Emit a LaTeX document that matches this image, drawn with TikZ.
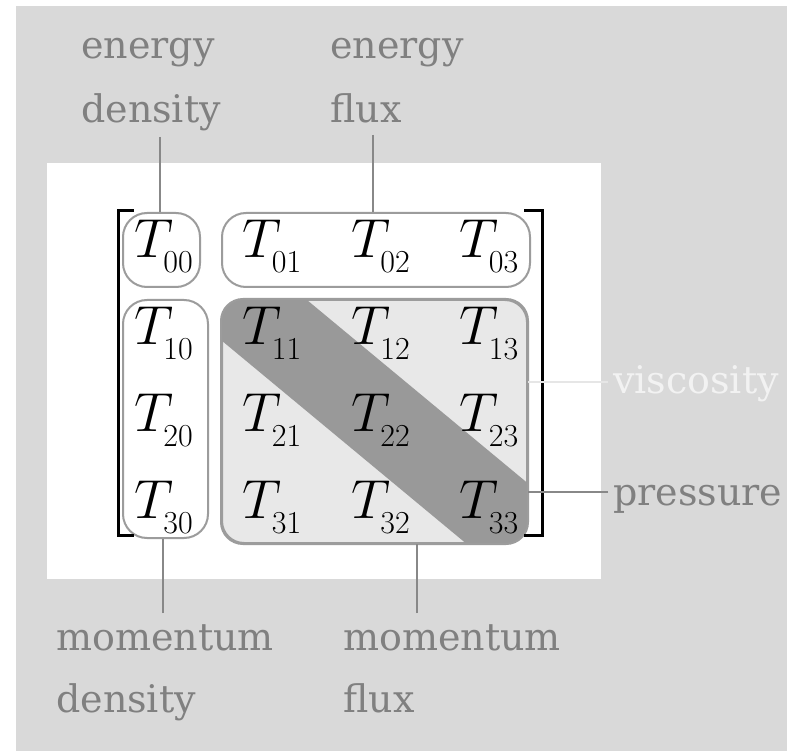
\documentclass[tikz,border=0pt]{standalone}
\usepackage{fix-cm}
\usepackage{fontspec}
\newfontfamily\labfont{DejaVu Serif}
\definecolor{bggray}{HTML}{D9D9D9}
\definecolor{labgray}{HTML}{808080}
\definecolor{boxfill}{HTML}{E8E8E8}
\definecolor{bandgray}{HTML}{999999}
\definecolor{capgray}{HTML}{9C9C9C}
\definecolor{conngray}{HTML}{888888}
\definecolor{viscgray}{HTML}{F2F2F2}
\definecolor{visclinegray}{HTML}{E6E6E6}
\newcommand{\Tent}[1]{{\fontsize{55}{60}\selectfont$T$}\kern-10pt\raisebox{-15pt}{\fontsize{32}{34}\selectfont #1}}
\tikzset{
  entry/.style={inner sep=0pt, text=black},
  capsule/.style={draw=capgray, line width=2pt, rounded corners=24pt, inner sep=0pt},
  lab/.style={anchor=base west, inner sep=0pt, text=labgray, font=\labfont\fontsize{38}{40}\selectfont},
  conn/.style={draw=conngray, line width=2.2pt},
  bracket/.style={draw=black, line width=3pt, line cap=rect},
}
\begin{document}
\begin{tikzpicture}[x=1pt,y=-1pt]
\useasboundingbox (0,0) rectangle (795,751);
% backgrounds
\fill[bggray] (16,6) rectangle (787,751);
\fill[white] (47,163) rectangle (601,579);
% capsules
\node[capsule, minimum width=77pt, minimum height=74pt] (c00) at (161.5,250) {};
\node[capsule, minimum width=308pt, minimum height=74pt] (c0x) at (376,250) {};
\node[capsule, minimum width=85pt, minimum height=238pt] (cx0) at (165.5,419) {};
\node[capsule, fill=boxfill, rounded corners=22pt, minimum width=305pt, minimum height=243pt] (big) at (374.5,421.5) {};
% diagonal band
\begin{scope}
  \clip[rounded corners=22pt] (222,300) rectangle (527,543);
  \fill[bandgray] (150,169.7) -- (600,543.2) -- (600,654.6) -- (150,281.1) -- cycle;
\end{scope}
\draw[capsule, fill=none, rounded corners=22pt] (big.north west) rectangle (big.south east);
% brackets
\draw[bracket] (132,210.5) -- (118.5,210.5) -- (118.5,535) -- (132,535);
\draw[bracket] (525,210.5) -- (542.5,210.5) -- (542.5,535) -- (525,535);
% entries
\node[entry] (t00) at (163.5,246.5) {\Tent{00}};
\node[entry] (t01) at (272,246.5) {\Tent{01}};
\node[entry] (t02) at (380.5,246.5) {\Tent{02}};
\node[entry] (t03) at (489,246.5) {\Tent{03}};
\node[entry] (t10) at (163.5,333.5) {\Tent{10}};
\node[entry] (t11) at (272,333.5) {\Tent{11}};
\node[entry] (t12) at (380.5,333.5) {\Tent{12}};
\node[entry] (t13) at (489,333.5) {\Tent{13}};
\node[entry] (t20) at (163.5,420.5) {\Tent{20}};
\node[entry] (t21) at (272,420.5) {\Tent{21}};
\node[entry] (t22) at (380.5,420.5) {\Tent{22}};
\node[entry] (t23) at (489,420.5) {\Tent{23}};
\node[entry] (t30) at (163.5,507) {\Tent{30}};
\node[entry] (t31) at (272,507) {\Tent{31}};
\node[entry] (t32) at (380.5,507) {\Tent{32}};
\node[entry] (t33) at (489,507) {\Tent{33}};
% labels
\node[lab] (ed1) at (81,59) {energy};
\node[lab] (ed2) at (81,123) {density};
\node[lab] (ef1) at (330,59) {energy};
\node[lab] (ef2) at (330,123) {flux};
\node[lab] (md1) at (56,650) {momentum};
\node[lab] (md2) at (56,712) {density};
\node[lab] (mf1) at (343,650) {momentum};
\node[lab] (mf2) at (343,712) {flux};
\node[lab, text=viscgray] (visc) at (613,393) {viscosity};
\node[lab] (pres) at (613,505) {pressure};
% connectors
\coordinate (edEnd) at (160,137);
\coordinate (efEnd) at (373,135);
\coordinate (mdEnd) at (163,613);
\coordinate (mfEnd) at (417,613);
\coordinate (viscEnd) at (608,382);
\coordinate (presEnd) at (608,492);
\draw[conn] (edEnd) -- (edEnd |- c00.north);
\draw[conn] (efEnd) -- (efEnd |- c0x.north);
\draw[conn] (mdEnd) -- (mdEnd |- cx0.south);
\draw[conn] (mfEnd) -- (mfEnd |- big.south);
\draw[conn, draw=visclinegray] (viscEnd) -- (viscEnd -| big.east);
\draw[conn] (presEnd) -- (presEnd -| big.east);
\end{tikzpicture}
\end{document}
